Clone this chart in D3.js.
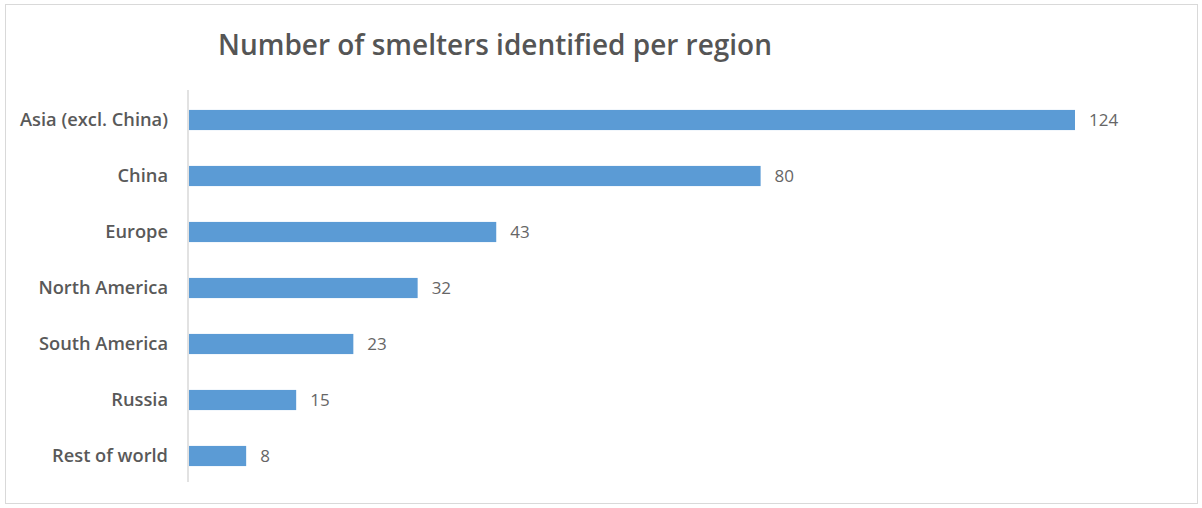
<!DOCTYPE html>
<html><head><meta charset="utf-8">
<script src="https://cdn.jsdelivr.net/npm/d3@7"></script>
<style>html,body{margin:0;padding:0;background:#fff;}svg{display:block;}</style>
</head><body>
<svg id="c" width="1202" height="508"></svg>
<script>
const categories = ["Asia (excl. China)","China","Europe","North America","South America","Russia","Rest of world"];
const values = [124,80,43,32,23,15,8];
const title = "Number of smelters identified per region";

const svg = d3.select("#c");
const font = "'Open Sans', 'Liberation Sans', sans-serif";
svg.append("rect").attr("x",5.5).attr("y",4.5).attr("width",1192).attr("height",499)
  .attr("fill","#fff").attr("stroke","#d9d9d9").attr("stroke-width",1);

const x = d3.scaleLinear().domain([0,124]).range([189,1075]);
const y = d3.scaleBand().domain(categories).range([92,484]).paddingInner(0.64).paddingOuter(0.32);

const t = svg.append("text").attr("x",495).attr("y",55).attr("text-anchor","middle")
  .attr("font-family",font).attr("font-size",26).attr("font-weight",600).attr("fill","#555").text(title);
const tw = t.node().getComputedTextLength();
t.attr("font-size", 26*554/tw);

svg.selectAll("rect.bar").data(categories).enter().append("rect").attr("class","bar")
  .attr("x",x(0)).attr("y",d=>y(d)).attr("height",y.bandwidth())
  .attr("width",(d,i)=>x(values[i])-x(0)).attr("fill","#5b9bd5");

const ax = svg.append("g").attr("transform",`translate(${x(0)-1},0)`)
  .call(d3.axisLeft(y).tickSize(0).tickPadding(20));
ax.select(".domain").attr("stroke","#d9d9d9").attr("stroke-width",1.5).attr("d","M0,90V482");
ax.selectAll("text").attr("font-family",font).attr("font-size",16).attr("font-weight",600).attr("fill","#595959");
// fit first label width to reference (~148px)
const lw = ax.select(".tick text").node().getComputedTextLength();
ax.selectAll("text").attr("font-size",16*148/lw);

svg.selectAll("text.val").data(categories).enter().append("text").attr("class","val")
  .attr("x",(d,i)=>x(values[i])+14).attr("y",d=>y(d)+y.bandwidth()/2).attr("dy","0.38em")
  .attr("font-family",font).attr("font-size",17).attr("fill","#666")
  .text((d,i)=>values[i]);
</script>
</body></html>
